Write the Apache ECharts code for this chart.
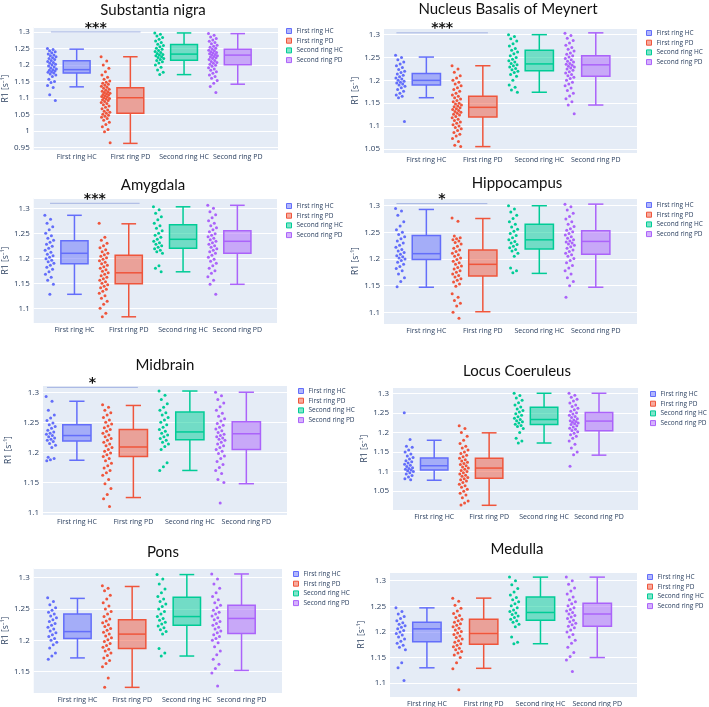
<!DOCTYPE html>
<html>
<head>
<meta charset="utf-8">
<script src="https://cdn.jsdelivr.net/npm/echarts@6/dist/echarts.min.js"></script>
<style>html,body{margin:0;padding:0;background:#fff}#chart{width:709px;height:707px}</style>
</head>
<body>
<div id="chart"></div>
<script>
// groups shown in every panel
const groupNames = ['First ring HC', 'First ring PD', 'Second ring HC', 'Second ring PD'];
const groupColors = ['#636efa', '#EF553B', '#00cc96', '#ab63fa'];
const regionNames = ['Substantia nigra', 'Nucleus Basalis of Meynert', 'Amygdala', 'Hippocampus',
  'Midbrain', 'Locus Coeruleus', 'Pons', 'Medulla'];
const stars = ['***', '***', '***', '*', '*', '', '', ''];
const starLevel = [1.3, 1.304, 1.31, 1.304, 1.308, null, null, null];

// box stats per group: [lower fence, Q1, median, Q3, upper fence]
const snBoxes = [[1.134, 1.176, 1.186, 1.213, 1.248], [0.963, 1.054, 1.101, 1.131, 1.225], [1.171, 1.2145, 1.233, 1.262, 1.297], [1.142, 1.201, 1.23, 1.248, 1.295]];
const nbmBoxes = [[1.162, 1.19, 1.2, 1.215, 1.251], [1.055, 1.12, 1.141, 1.165, 1.232], [1.174, 1.221, 1.236, 1.266, 1.3], [1.146, 1.209, 1.234, 1.254, 1.304]];
const amyBoxes = [[1.128, 1.189, 1.21, 1.235, 1.286], [1.083, 1.149, 1.171, 1.206, 1.269], [1.173, 1.22, 1.238, 1.267, 1.303], [1.148, 1.21, 1.234, 1.255, 1.306]];
const hipBoxes = [[1.147, 1.199, 1.21, 1.244, 1.293], [1.101, 1.168, 1.19, 1.217, 1.276], [1.173, 1.219, 1.236, 1.265, 1.3], [1.147, 1.209, 1.233, 1.253, 1.303]];
const midBoxes = [[1.187, 1.219, 1.228, 1.246, 1.285], [1.125, 1.193, 1.209, 1.238, 1.278], [1.17, 1.221, 1.234, 1.267, 1.302], [1.148, 1.205, 1.231, 1.251, 1.3]];
const lcBoxes = [[1.078, 1.104, 1.115, 1.135, 1.18], [1.014, 1.083, 1.109, 1.134, 1.199], [1.173, 1.22, 1.233, 1.264, 1.3], [1.142, 1.204, 1.229, 1.251, 1.3]];
const ponsBoxes = [[1.172, 1.203, 1.214, 1.242, 1.267], [1.125, 1.187, 1.21, 1.233, 1.286], [1.175, 1.224, 1.238, 1.269, 1.305], [1.152, 1.211, 1.235, 1.256, 1.306]];
const medBoxes = [[1.13, 1.181, 1.206, 1.219, 1.247], [1.129, 1.176, 1.197, 1.225, 1.266], [1.177, 1.223, 1.238, 1.268, 1.307], [1.15, 1.211, 1.235, 1.256, 1.307]];

// individual subject values per group
const snPoints = [
  [1.25, 1.247, 1.243, 1.24, 1.237, 1.233, 1.23, 1.228, 1.225, 1.222, 1.22, 1.217, 1.214, 1.211, 1.208, 1.205, 1.202, 1.2, 1.197, 1.194, 1.191, 1.188, 1.186, 1.184, 1.182, 1.18, 1.178, 1.176, 1.173, 1.17, 1.165, 1.157, 1.15, 1.147, 1.138, 1.132, 1.11, 1.093],
  [1.225, 1.212, 1.2, 1.19, 1.18, 1.17, 1.163, 1.157, 1.152, 1.148, 1.145, 1.142, 1.139, 1.136, 1.133, 1.13, 1.127, 1.124, 1.121, 1.119, 1.117, 1.115, 1.113, 1.111, 1.109, 1.107, 1.105, 1.103, 1.101, 1.099, 1.097, 1.095, 1.093, 1.09, 1.087, 1.084, 1.08, 1.076, 1.072, 1.068, 1.064, 1.06, 1.057, 1.054, 1.051, 1.048, 1.045, 1.042, 1.038, 1.033, 1.027, 1.02, 1.013, 1.005, 0.998, 0.965],
  [1.297, 1.293, 1.288, 1.283, 1.278, 1.273, 1.268, 1.263, 1.259, 1.255, 1.251, 1.248, 1.244, 1.241, 1.238, 1.235, 1.232, 1.23, 1.228, 1.225, 1.223, 1.22, 1.217, 1.214, 1.21, 1.206, 1.2, 1.193, 1.185, 1.178, 1.171],
  [1.295, 1.29, 1.285, 1.28, 1.276, 1.272, 1.268, 1.264, 1.26, 1.257, 1.254, 1.251, 1.248, 1.245, 1.243, 1.24, 1.238, 1.236, 1.234, 1.232, 1.23, 1.228, 1.226, 1.224, 1.222, 1.22, 1.217, 1.214, 1.211, 1.208, 1.205, 1.202, 1.199, 1.196, 1.192, 1.188, 1.184, 1.18, 1.175, 1.17, 1.165, 1.16, 1.153, 1.145, 1.135, 1.117]
];
const nbmPoints = [
  [1.255, 1.25, 1.245, 1.24, 1.236, 1.232, 1.228, 1.224, 1.22, 1.217, 1.214, 1.211, 1.208, 1.205, 1.203, 1.2, 1.198, 1.196, 1.194, 1.192, 1.19, 1.187, 1.184, 1.18, 1.176, 1.172, 1.168, 1.165, 1.162, 1.11],
  [1.232, 1.225, 1.218, 1.21, 1.205, 1.2, 1.196, 1.192, 1.188, 1.184, 1.18, 1.176, 1.172, 1.168, 1.165, 1.162, 1.159, 1.156, 1.153, 1.15, 1.148, 1.146, 1.144, 1.142, 1.14, 1.138, 1.136, 1.134, 1.132, 1.13, 1.128, 1.126, 1.124, 1.121, 1.118, 1.115, 1.112, 1.109, 1.106, 1.103, 1.1, 1.097, 1.094, 1.09, 1.086, 1.082, 1.078, 1.073, 1.066, 1.058, 1.055],
  [1.3, 1.296, 1.291, 1.286, 1.28, 1.275, 1.27, 1.266, 1.262, 1.258, 1.254, 1.25, 1.246, 1.243, 1.24, 1.237, 1.234, 1.232, 1.229, 1.226, 1.223, 1.22, 1.217, 1.213, 1.209, 1.2, 1.19, 1.185, 1.179, 1.174],
  [1.303, 1.298, 1.292, 1.287, 1.282, 1.277, 1.272, 1.268, 1.264, 1.26, 1.257, 1.254, 1.251, 1.248, 1.245, 1.242, 1.24, 1.237, 1.235, 1.233, 1.231, 1.229, 1.227, 1.225, 1.222, 1.219, 1.216, 1.213, 1.21, 1.207, 1.204, 1.2, 1.196, 1.192, 1.188, 1.183, 1.178, 1.172, 1.166, 1.16, 1.153, 1.146, 1.127]
];
const amyPoints = [
  [1.286, 1.278, 1.27, 1.263, 1.257, 1.25, 1.245, 1.24, 1.236, 1.232, 1.228, 1.224, 1.22, 1.216, 1.212, 1.208, 1.205, 1.202, 1.199, 1.196, 1.193, 1.19, 1.186, 1.182, 1.178, 1.173, 1.168, 1.162, 1.156, 1.148, 1.128],
  [1.27, 1.242, 1.236, 1.23, 1.225, 1.221, 1.217, 1.213, 1.21, 1.207, 1.204, 1.201, 1.198, 1.195, 1.192, 1.189, 1.186, 1.183, 1.18, 1.177, 1.174, 1.171, 1.168, 1.165, 1.162, 1.159, 1.156, 1.153, 1.15, 1.147, 1.144, 1.141, 1.138, 1.134, 1.13, 1.125, 1.12, 1.114, 1.108, 1.1, 1.09, 1.083],
  [1.303, 1.297, 1.29, 1.283, 1.277, 1.27, 1.265, 1.26, 1.255, 1.25, 1.246, 1.242, 1.238, 1.234, 1.231, 1.228, 1.225, 1.222, 1.219, 1.216, 1.213, 1.21, 1.185, 1.18, 1.173],
  [1.306, 1.3, 1.293, 1.287, 1.281, 1.275, 1.27, 1.265, 1.261, 1.257, 1.253, 1.249, 1.246, 1.243, 1.24, 1.237, 1.234, 1.231, 1.228, 1.225, 1.222, 1.219, 1.216, 1.213, 1.21, 1.206, 1.202, 1.198, 1.194, 1.19, 1.185, 1.18, 1.175, 1.17, 1.163, 1.156, 1.148, 1.128]
];
const hipPoints = [
  [1.295, 1.29, 1.282, 1.27, 1.262, 1.255, 1.25, 1.246, 1.242, 1.238, 1.234, 1.23, 1.226, 1.222, 1.218, 1.215, 1.212, 1.209, 1.206, 1.204, 1.202, 1.2, 1.197, 1.194, 1.19, 1.186, 1.182, 1.178, 1.172, 1.165, 1.158, 1.148],
  [1.277, 1.271, 1.243, 1.24, 1.238, 1.236, 1.234, 1.231, 1.228, 1.224, 1.22, 1.217, 1.214, 1.211, 1.208, 1.205, 1.202, 1.199, 1.196, 1.193, 1.19, 1.187, 1.184, 1.181, 1.178, 1.175, 1.172, 1.169, 1.166, 1.163, 1.16, 1.157, 1.153, 1.149, 1.135, 1.128, 1.122, 1.117, 1.112, 1.1, 1.089],
  [1.3, 1.294, 1.288, 1.282, 1.276, 1.27, 1.265, 1.26, 1.256, 1.252, 1.248, 1.244, 1.24, 1.236, 1.233, 1.23, 1.227, 1.224, 1.221, 1.218, 1.215, 1.211, 1.205, 1.183, 1.178, 1.174],
  [1.303, 1.298, 1.292, 1.286, 1.28, 1.275, 1.27, 1.265, 1.261, 1.257, 1.254, 1.251, 1.248, 1.245, 1.242, 1.239, 1.236, 1.234, 1.232, 1.23, 1.228, 1.226, 1.223, 1.22, 1.217, 1.214, 1.211, 1.208, 1.205, 1.201, 1.197, 1.193, 1.188, 1.183, 1.178, 1.172, 1.165, 1.158, 1.15, 1.128]
];
const midPoints = [
  [1.293, 1.285, 1.27, 1.262, 1.257, 1.253, 1.249, 1.246, 1.243, 1.24, 1.237, 1.234, 1.232, 1.23, 1.228, 1.226, 1.224, 1.222, 1.22, 1.218, 1.215, 1.212, 1.208, 1.192, 1.19, 1.188, 1.186],
  [1.279, 1.275, 1.27, 1.266, 1.262, 1.258, 1.254, 1.25, 1.247, 1.244, 1.241, 1.238, 1.235, 1.232, 1.229, 1.226, 1.223, 1.22, 1.217, 1.214, 1.211, 1.208, 1.205, 1.202, 1.199, 1.196, 1.193, 1.19, 1.186, 1.182, 1.178, 1.174, 1.17, 1.166, 1.162, 1.155, 1.148, 1.14, 1.13, 1.123, 1.11],
  [1.302, 1.295, 1.288, 1.281, 1.275, 1.27, 1.266, 1.262, 1.258, 1.254, 1.25, 1.246, 1.242, 1.238, 1.235, 1.232, 1.229, 1.226, 1.223, 1.22, 1.217, 1.214, 1.21, 1.205, 1.183, 1.176, 1.17],
  [1.3, 1.294, 1.288, 1.282, 1.276, 1.27, 1.265, 1.26, 1.256, 1.252, 1.248, 1.245, 1.242, 1.239, 1.236, 1.233, 1.23, 1.228, 1.226, 1.224, 1.222, 1.22, 1.217, 1.214, 1.211, 1.208, 1.205, 1.202, 1.198, 1.194, 1.19, 1.185, 1.18, 1.175, 1.17, 1.165, 1.155, 1.15, 1.116]
];
const lcPoints = [
  [1.25, 1.182, 1.165, 1.162, 1.155, 1.15, 1.145, 1.14, 1.136, 1.132, 1.128, 1.125, 1.122, 1.119, 1.116, 1.113, 1.11, 1.108, 1.106, 1.104, 1.102, 1.1, 1.097, 1.094, 1.09, 1.086, 1.082, 1.079],
  [1.217, 1.21, 1.2, 1.19, 1.18, 1.172, 1.165, 1.16, 1.155, 1.15, 1.146, 1.142, 1.138, 1.134, 1.13, 1.127, 1.124, 1.121, 1.118, 1.115, 1.112, 1.109, 1.106, 1.103, 1.1, 1.097, 1.094, 1.091, 1.088, 1.085, 1.082, 1.079, 1.076, 1.072, 1.068, 1.064, 1.06, 1.055, 1.05, 1.045, 1.04, 1.033, 1.025, 1.02, 1.015],
  [1.3, 1.294, 1.288, 1.282, 1.276, 1.27, 1.265, 1.26, 1.256, 1.252, 1.248, 1.244, 1.24, 1.236, 1.233, 1.23, 1.227, 1.224, 1.221, 1.218, 1.215, 1.21, 1.2, 1.185, 1.178, 1.173],
  [1.3, 1.295, 1.29, 1.285, 1.28, 1.275, 1.27, 1.266, 1.262, 1.258, 1.254, 1.25, 1.247, 1.244, 1.241, 1.238, 1.235, 1.232, 1.23, 1.228, 1.226, 1.224, 1.222, 1.22, 1.217, 1.214, 1.211, 1.208, 1.205, 1.202, 1.198, 1.194, 1.19, 1.185, 1.178, 1.17, 1.16, 1.15, 1.143, 1.114]
];
const ponsPoints = [
  [1.268, 1.262, 1.257, 1.252, 1.248, 1.245, 1.242, 1.239, 1.236, 1.233, 1.23, 1.227, 1.224, 1.221, 1.218, 1.215, 1.212, 1.209, 1.206, 1.203, 1.2, 1.197, 1.193, 1.188, 1.18, 1.175, 1.17],
  [1.287, 1.283, 1.279, 1.272, 1.266, 1.26, 1.255, 1.25, 1.246, 1.242, 1.238, 1.234, 1.231, 1.228, 1.225, 1.222, 1.219, 1.216, 1.213, 1.21, 1.207, 1.204, 1.201, 1.198, 1.195, 1.192, 1.189, 1.186, 1.183, 1.18, 1.176, 1.172, 1.168, 1.163, 1.158, 1.14, 1.125],
  [1.305, 1.298, 1.29, 1.282, 1.276, 1.27, 1.266, 1.262, 1.258, 1.254, 1.25, 1.246, 1.242, 1.238, 1.235, 1.232, 1.229, 1.226, 1.223, 1.22, 1.217, 1.214, 1.21, 1.187, 1.18, 1.175],
  [1.306, 1.298, 1.29, 1.283, 1.276, 1.27, 1.265, 1.26, 1.256, 1.252, 1.248, 1.245, 1.242, 1.239, 1.236, 1.233, 1.23, 1.227, 1.224, 1.221, 1.218, 1.215, 1.212, 1.209, 1.206, 1.203, 1.2, 1.196, 1.19, 1.183, 1.177, 1.17, 1.162, 1.155, 1.148, 1.127]
];
const medPoints = [
  [1.247, 1.24, 1.235, 1.23, 1.226, 1.222, 1.218, 1.215, 1.212, 1.209, 1.206, 1.203, 1.2, 1.197, 1.194, 1.19, 1.186, 1.182, 1.178, 1.174, 1.17, 1.165, 1.14, 1.13, 1.105],
  [1.266, 1.26, 1.252, 1.246, 1.241, 1.236, 1.232, 1.228, 1.225, 1.222, 1.219, 1.216, 1.213, 1.21, 1.207, 1.204, 1.201, 1.198, 1.195, 1.192, 1.189, 1.186, 1.183, 1.18, 1.177, 1.174, 1.171, 1.168, 1.165, 1.162, 1.159, 1.155, 1.15, 1.14, 1.128, 1.087],
  [1.307, 1.3, 1.292, 1.285, 1.278, 1.272, 1.267, 1.263, 1.259, 1.255, 1.251, 1.247, 1.243, 1.24, 1.237, 1.234, 1.231, 1.228, 1.225, 1.222, 1.219, 1.215, 1.21, 1.19, 1.18, 1.177],
  [1.307, 1.3, 1.293, 1.286, 1.28, 1.274, 1.268, 1.263, 1.259, 1.255, 1.251, 1.247, 1.244, 1.241, 1.238, 1.235, 1.232, 1.229, 1.226, 1.223, 1.22, 1.217, 1.214, 1.211, 1.208, 1.204, 1.2, 1.195, 1.19, 1.184, 1.178, 1.17, 1.16, 1.152, 1.145, 1.123]
];

const allBoxes = [snBoxes, nbmBoxes, amyBoxes, hipBoxes, midBoxes, lcBoxes, ponsBoxes, medBoxes];
const allPoints = [snPoints, nbmPoints, amyPoints, hipPoints, midPoints, lcPoints, ponsPoints, medPoints];

// placement of each panel (pixels) and axis windows
const layout = [
  { grid: [29, 27, 249, 123], x: [-0.8, 3.75], y: [0.943, 1.315], title: [153, 10], legend: [286, 27], nameX: 9, bar: [-0.48, 1.19] },
  { grid: [384, 28, 253, 125], x: [-0.75, 3.73], y: [1.041, 1.3146], title: [508, 9], legend: [646, 29], nameX: 361, bar: [-0.53, 1.09] },
  { grid: [29, 198, 248, 125], x: [-0.75, 3.73], y: [1.0706, 1.3206], title: [153, 185], legend: [286, 202], nameX: 9, bar: [-0.45, 1.2] },
  { grid: [384, 198, 253, 126], x: [-0.75, 3.73], y: [1.078, 1.3145], title: [517, 183], legend: [646, 201], nameX: 361, bar: [-0.53, 1.08] },
  { grid: [43, 385, 244, 130], x: [-0.6, 3.72], y: [1.096, 1.312], title: [165, 365], legend: [298, 387], nameX: 9, bar: [-0.53, 1.08] },
  { grid: [393, 387, 245, 123], x: [-0.75, 3.71], y: [1.002, 1.316], title: [517, 371], legend: [650, 390], nameX: 371 },
  { grid: [29, 568, 253, 125], x: [-0.8, 3.74], y: [1.116, 1.3155], title: [163, 552], legend: [293, 570], nameX: 7 },
  { grid: [390, 572, 247, 126], x: [-0.65, 3.7], y: [1.073, 1.317], title: [517, 549], legend: [647, 573], nameX: 362 }
];

const BOX_HALF = 0.25;
const CAP_HALF = 0.135;
const POINT_SHIFT = -0.46;
const TEXT = '#2a3f5f';
const tickFont = '"Open Sans", "Noto Sans", sans-serif';

function rgba(hex, a) {
  const n = parseInt(hex.slice(1), 16);
  return `rgba(${n >> 16},${(n >> 8) & 255},${n & 255},${a})`;
}

// side-by-side jitter of the points, deterministic
function jitter(i) {
  return ((i * 0.618034) % 1 - 0.5) * 0.17;
}

function boxRenderer(color) {
  return function (params, api) {
    const x = api.value(0);
    const tl = api.coord([x - BOX_HALF, api.value(4)]);
    const br = api.coord([x + BOX_HALF, api.value(2)]);
    const med = api.coord([x, api.value(3)]);
    const hi = api.coord([x, api.value(5)]);
    const lo = api.coord([x, api.value(1)]);
    const cl = api.coord([x - CAP_HALF, api.value(5)])[0];
    const cr = api.coord([x + CAP_HALF, api.value(5)])[0];
    const st = { stroke: color, lineWidth: 1.5, fill: null };
    return {
      type: 'group',
      children: [
        { type: 'line', shape: { x1: hi[0], y1: hi[1], x2: hi[0], y2: tl[1] }, style: st },
        { type: 'line', shape: { x1: lo[0], y1: br[1], x2: lo[0], y2: lo[1] }, style: st },
        { type: 'line', shape: { x1: cl, y1: hi[1], x2: cr, y2: hi[1] }, style: st },
        { type: 'line', shape: { x1: cl, y1: lo[1], x2: cr, y2: lo[1] }, style: st },
        { type: 'rect', shape: { x: tl[0], y: tl[1], width: br[0] - tl[0], height: br[1] - tl[1] },
          style: { fill: rgba(color, 0.5), stroke: color, lineWidth: 1.5 } },
        { type: 'line', shape: { x1: tl[0], y1: med[1], x2: br[0], y2: med[1] }, style: st }
      ]
    };
  };
}

function barRenderer(label) {
  return function (params, api) {
    const a = api.coord([api.value(0), api.value(2)]);
    const b = api.coord([api.value(1), api.value(2)]);
    return {
      type: 'group',
      children: [
        { type: 'line', shape: { x1: a[0], y1: a[1], x2: b[0], y2: b[1] }, style: { stroke: '#a6b5e3', lineWidth: 1 } },
        { type: 'text', x: (a[0] + b[0]) / 2, y: a[1] - 4,
          style: { text: label, fill: '#111', font: 'bold 14px "DejaVu Sans"', align: 'center', verticalAlign: 'middle' } }
      ]
    };
  };
}

const grids = [], xAxes = [], yAxes = [], legends = [], series = [], graphics = [];

layout.forEach((L, p) => {
  const [left, top, width, height] = L.grid;
  grids.push({ left, top, width, height, show: true, backgroundColor: '#E5ECF6', borderWidth: 0 });
  xAxes.push({
    type: 'value', gridIndex: p, min: L.x[0], max: L.x[1], interval: 0.05,
    axisLine: { show: false }, axisTick: { show: false }, splitLine: { show: false },
    axisLabel: {
      margin: 3, fontSize: 7, color: TEXT, fontFamily: tickFont,
      formatter: v => {
        const k = Math.round(v);
        return Math.abs(v - k) < 1e-6 && k >= 0 && k < 4 ? groupNames[k] : '';
      }
    }
  });
  yAxes.push({
    type: 'value', gridIndex: p, min: L.y[0], max: L.y[1], minInterval: 0.05, maxInterval: 0.05,
    name: 'R1 [s⁻¹]', nameLocation: 'middle', nameGap: left - L.nameX - 4,
    nameTextStyle: { fontSize: 8.5, color: TEXT, fontFamily: tickFont },
    axisLine: { show: false }, axisTick: { show: false },
    splitLine: { lineStyle: { color: '#fff', width: 1 } },
    axisLabel: { margin: 4, fontSize: 8, color: TEXT, fontFamily: tickFont, showMinLabel: false, showMaxLabel: false }
  });
  legends.push({
    orient: 'vertical', left: L.legend[0], top: L.legend[1], padding: 0,
    itemWidth: 5, itemHeight: 5, itemGap: 1.7, icon: 'rect', selectedMode: false,
    textStyle: { fontSize: 6.5, lineHeight: 8, color: TEXT, fontFamily: tickFont },
    data: groupNames.map((g, i) => ({
      name: g, itemStyle: { color: rgba(groupColors[i], 0.5), borderColor: groupColors[i], borderWidth: 1 }
    }))
  });
  graphics.push({
    type: 'text', x: L.title[0], y: L.title[1],
    style: { text: regionNames[p], font: '15px Lato', fill: '#111', align: 'center', verticalAlign: 'middle' }
  });

  groupNames.forEach((g, gi) => {
    const c = groupColors[gi];
    series.push({
      type: 'custom', name: g, xAxisIndex: p, yAxisIndex: p, silent: true, z: 2,
      itemStyle: { color: c },
      encode: { x: 0, y: [1, 2, 3, 4, 5] },
      renderItem: boxRenderer(c),
      data: [[gi].concat(allBoxes[p][gi])]
    });
    series.push({
      type: 'scatter', name: g, xAxisIndex: p, yAxisIndex: p, silent: true, z: 3,
      symbolSize: 3, itemStyle: { color: c, opacity: 1 },
      data: allPoints[p][gi].map((v, i) => [gi + POINT_SHIFT + jitter(i), v])
    });
  });

  if (stars[p]) {
    series.push({
      type: 'custom', xAxisIndex: p, yAxisIndex: p, silent: true, z: 4,
      encode: { x: [0, 1], y: 2 },
      renderItem: barRenderer(stars[p]),
      data: [[L.bar[0], L.bar[1], starLevel[p]]]
    });
  }
});

const chart = echarts.init(document.getElementById('chart'));
chart.setOption({
  animation: false,
  backgroundColor: '#fff',
  grid: grids,
  xAxis: xAxes,
  yAxis: yAxes,
  legend: legends,
  graphic: graphics,
  series: series
});
</script>
</body>
</html>
